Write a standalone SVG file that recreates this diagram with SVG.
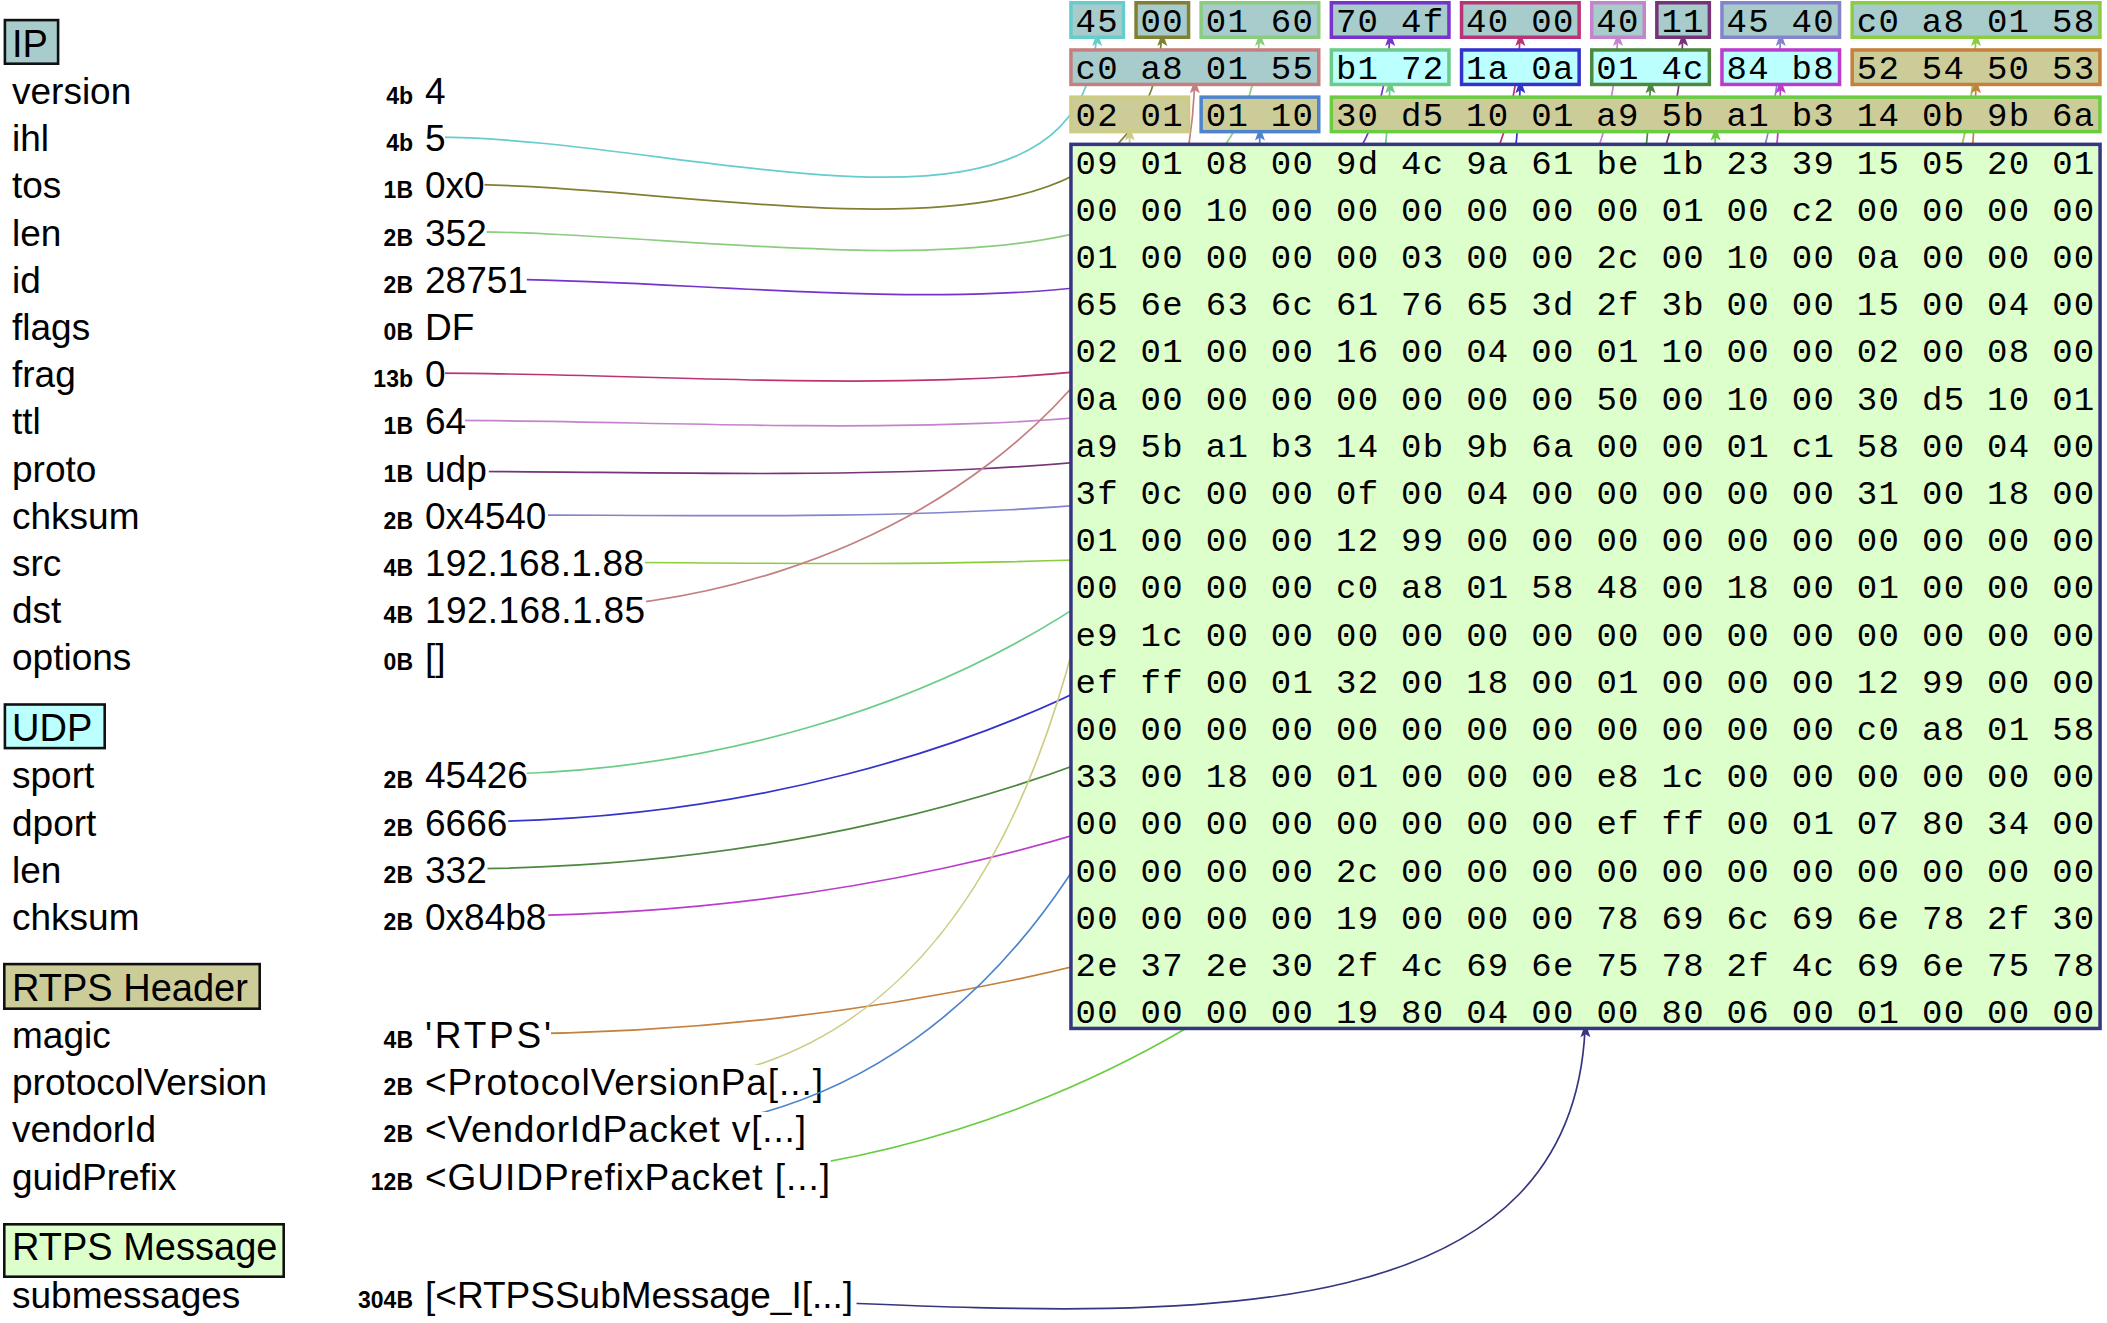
<svg xmlns="http://www.w3.org/2000/svg" xmlns:xlink="http://www.w3.org/1999/xlink" width="2107" height="1323" viewBox="0 0 2107 1323">
<style>
text{font-family:"Liberation Sans",Arial,sans-serif;fill:#000}
.l{font-size:37px}
.t{font-size:38px}
.s{font-size:23px;font-weight:bold;text-anchor:end}
.h{font-family:"Liberation Mono","Courier New",monospace;font-size:34px;letter-spacing:1.3px}
.cn{fill:none;stroke-width:1.7}
.fr{stroke-width:3.5}
.tb{stroke:#111;stroke-width:2.6}
.ip{fill:#a8cccc}.udp{fill:#bbffff}.rh{fill:#cccc99}.rm{fill:#ddffcc}
</style>
<defs>
<path id="ah" d="M0 0L-5 14L0 11L5 14Z"/>
<clipPath id="k1"><path clip-rule="evenodd" d="M0 0H2107V1323H0ZM425 123.2H445V151.2H425Z"/></clipPath>
<clipPath id="k2"><path clip-rule="evenodd" d="M0 0H2107V1323H0ZM425 170.4H484.4V198.4H425Z"/></clipPath>
<clipPath id="k3"><path clip-rule="evenodd" d="M0 0H2107V1323H0ZM425 217.6H486.6V245.6H425Z"/></clipPath>
<clipPath id="k4"><path clip-rule="evenodd" d="M0 0H2107V1323H0ZM425 264.8H526.8V292.8H425Z"/></clipPath>
<clipPath id="k5"><path clip-rule="evenodd" d="M0 0H2107V1323H0ZM425 359.2H445V387.2H425Z"/></clipPath>
<clipPath id="k6"><path clip-rule="evenodd" d="M0 0H2107V1323H0ZM425 406.4H465V434.4H425Z"/></clipPath>
<clipPath id="k7"><path clip-rule="evenodd" d="M0 0H2107V1323H0ZM425 453.6H488.8V489.4H425Z"/></clipPath>
<clipPath id="k8"><path clip-rule="evenodd" d="M0 0H2107V1323H0ZM425 500.8H548V528.8H425Z"/></clipPath>
<clipPath id="k9"><path clip-rule="evenodd" d="M0 0H2107V1323H0ZM425 548H645V576H425Z"/></clipPath>
<clipPath id="k10"><path clip-rule="evenodd" d="M0 0H2107V1323H0ZM425 595.2H646V623.2H425Z"/></clipPath>
<clipPath id="k11"><path clip-rule="evenodd" d="M0 0H2107V1323H0ZM425 760.4H526.8V788.4H425Z"/></clipPath>
<clipPath id="k12"><path clip-rule="evenodd" d="M0 0H2107V1323H0ZM425 807.6H508V835.6H425Z"/></clipPath>
<clipPath id="k13"><path clip-rule="evenodd" d="M0 0H2107V1323H0ZM425 854.8H487.5V882.8H425Z"/></clipPath>
<clipPath id="k14"><path clip-rule="evenodd" d="M0 0H2107V1323H0ZM425 902H548.2V930H425Z"/></clipPath>
<clipPath id="k15"><path clip-rule="evenodd" d="M0 0H2107V1323H0ZM425 1020H551V1048H425Z"/></clipPath>
<clipPath id="k16"><path clip-rule="evenodd" d="M0 0H2107V1323H0ZM425 1064.9H823.8V1105.3H425Z"/></clipPath>
<clipPath id="k17"><path clip-rule="evenodd" d="M0 0H2107V1323H0ZM425 1112.1H806.5V1152.5H425Z"/></clipPath>
<clipPath id="k18"><path clip-rule="evenodd" d="M0 0H2107V1323H0ZM425 1159.3H830.7V1199.7H425Z"/></clipPath>
<clipPath id="k19"><path clip-rule="evenodd" d="M0 0H2107V1323H0ZM425 1277.3H856.5V1317.7H425Z"/></clipPath>
</defs>
<rect width="2107" height="1323" fill="#fff"/>

<g id="layer-ip">
<rect class="tb ip" x="4.9" y="20.1" width="53.2" height="43.6"/>
<text class="t" x="12" y="56.8">IP</text>
</g>
<g id="f-version"><text class="l" x="12" y="104">version</text><text class="s" x="413" y="104">4b</text><text class="l" x="425" y="104">4</text></g>
<g id="f-ihl"><text class="l" x="12" y="151.2">ihl</text><text class="s" x="413" y="151.2">4b</text><text class="l" x="425" y="151.2">5</text></g>
<g id="f-tos"><text class="l" x="12" y="198.4">tos</text><text class="s" x="413" y="198.4">1B</text><text class="l" x="425" y="198.4">0x0</text></g>
<g id="f-len"><text class="l" x="12" y="245.6">len</text><text class="s" x="413" y="245.6">2B</text><text class="l" x="425" y="245.6">352</text></g>
<g id="f-id"><text class="l" x="12" y="292.8">id</text><text class="s" x="413" y="292.8">2B</text><text class="l" x="425" y="292.8">28751</text></g>
<g id="f-flags"><text class="l" x="12" y="340">flags</text><text class="s" x="413" y="340">0B</text><text class="l" x="425" y="340">DF</text></g>
<g id="f-frag"><text class="l" x="12" y="387.2">frag</text><text class="s" x="413" y="387.2">13b</text><text class="l" x="425" y="387.2">0</text></g>
<g id="f-ttl"><text class="l" x="12" y="434.4">ttl</text><text class="s" x="413" y="434.4">1B</text><text class="l" x="425" y="434.4">64</text></g>
<g id="f-proto"><text class="l" x="12" y="481.6">proto</text><text class="s" x="413" y="481.6">1B</text><text class="l" x="425" y="481.6">udp</text></g>
<g id="f-chksum"><text class="l" x="12" y="528.8">chksum</text><text class="s" x="413" y="528.8">2B</text><text class="l" x="425" y="528.8">0x4540</text></g>
<g id="f-src"><text class="l" x="12" y="576">src</text><text class="s" x="413" y="576">4B</text><text class="l" x="425" y="576" textLength="219" lengthAdjust="spacing">192.168.1.88</text></g>
<g id="f-dst"><text class="l" x="12" y="623.2">dst</text><text class="s" x="413" y="623.2">4B</text><text class="l" x="425" y="623.2" textLength="220" lengthAdjust="spacing">192.168.1.85</text></g>
<g id="f-options"><text class="l" x="12" y="670.4">options</text><text class="s" x="413" y="670.4">0B</text><text class="l" x="425" y="670.4">[]</text></g>

<g id="layer-udp">
<rect class="tb udp" x="4.9" y="704.5" width="99.8" height="43.6"/>
<text class="t" x="12" y="741.2">UDP</text>
</g>
<g id="f-sport"><text class="l" x="12" y="788.4">sport</text><text class="s" x="413" y="788.4">2B</text><text class="l" x="425" y="788.4">45426</text></g>
<g id="f-dport"><text class="l" x="12" y="835.6">dport</text><text class="s" x="413" y="835.6">2B</text><text class="l" x="425" y="835.6">6666</text></g>
<g id="f-ulen"><text class="l" x="12" y="882.8">len</text><text class="s" x="413" y="882.8">2B</text><text class="l" x="425" y="882.8">332</text></g>
<g id="f-uchksum"><text class="l" x="12" y="930">chksum</text><text class="s" x="413" y="930">2B</text><text class="l" x="425" y="930">0x84b8</text></g>

<g id="layer-rtps-header">
<rect class="tb rh" x="4.3" y="964.1" width="255.4" height="44.6"/>
<text class="t" x="12" y="1000.8">RTPS Header</text>
</g>
<g id="f-magic"><text class="l" x="12" y="1048">magic</text><text class="s" x="413" y="1048">4B</text><text class="l" x="425" y="1048" textLength="126" lengthAdjust="spacing">'RTPS'</text></g>
<g id="f-protocolVersion"><text class="l" x="12" y="1095.2">protocolVersion</text><text class="s" x="413" y="1095.2">2B</text><text class="l" x="425" y="1095.2" textLength="398" lengthAdjust="spacing">&lt;ProtocolVersionPa[...]</text></g>
<g id="f-vendorId"><text class="l" x="12" y="1142.4">vendorId</text><text class="s" x="413" y="1142.4">2B</text><text class="l" x="425" y="1142.4" textLength="381" lengthAdjust="spacing">&lt;VendorIdPacket v[...]</text></g>
<g id="f-guidPrefix"><text class="l" x="12" y="1189.6">guidPrefix</text><text class="s" x="413" y="1189.6">12B</text><text class="l" x="425" y="1189.6" textLength="405" lengthAdjust="spacing">&lt;GUIDPrefixPacket [...]</text></g>

<g id="layer-rtps-message">
<rect class="tb rm" x="4.3" y="1224.3" width="279.4" height="52.4"/>
<text class="t" x="12" y="1260.4">RTPS Message</text>
</g>
<g id="f-submessages"><text class="l" x="12" y="1307.6">submessages</text><text class="s" x="413" y="1307.6">304B</text><text class="l" x="425" y="1307.6">[&lt;RTPSSubMessage_I[...]</text></g>

<g id="connectors">
<path class="cn" stroke="#66cccc" clip-path="url(#k1)" d="M435 137.2C697.3 137.2 1097.2 282.3 1097.2 20"/>
<use xlink:href="#ah" x="1097.2" y="32" fill="#66cccc"/>
<path class="cn" stroke="#808033" clip-path="url(#k2)" d="M454.7 184.4C738 184.4 1162.3 303.3 1162.3 20"/>
<use xlink:href="#ah" x="1162.3" y="32" fill="#808033"/>
<path class="cn" stroke="#8ccc80" clip-path="url(#k3)" d="M455.8 231.6C780.1 231.6 1259.95 344.3 1259.95 20"/>
<use xlink:href="#ah" x="1259.95" y="32" fill="#8ccc80"/>
<path class="cn" stroke="#7733cc" clip-path="url(#k4)" d="M475.9 278.8C846.5 278.8 1390.15 390.6 1390.15 20"/>
<use xlink:href="#ah" x="1390.15" y="32" fill="#7733cc"/>
<path class="cn" stroke="#bb3377" clip-path="url(#k5)" d="M435 373.2C880.1 373.2 1520.35 465.1 1520.35 20"/>
<use xlink:href="#ah" x="1520.35" y="32" fill="#bb3377"/>
<path class="cn" stroke="#c484cc" clip-path="url(#k6)" d="M445 420.4C928.4 420.4 1618 503.4 1618 20"/>
<use xlink:href="#ah" x="1618" y="32" fill="#c484cc"/>
<path class="cn" stroke="#773377" clip-path="url(#k7)" d="M456.9 471.5C966.5 471.5 1683.1 529.6 1683.1 20"/>
<use xlink:href="#ah" x="1683.1" y="32" fill="#773377"/>
<path class="cn" stroke="#8484cc" clip-path="url(#k8)" d="M486.5 514.8C1026.9 514.8 1780.75 560.4 1780.75 20"/>
<use xlink:href="#ah" x="1780.75" y="32" fill="#8484cc"/>
<path class="cn" stroke="#8ccc40" clip-path="url(#k9)" d="M535 562C1135.4 562 1976.05 620.4 1976.05 20"/>
<use xlink:href="#ah" x="1976.05" y="32" fill="#8ccc40"/>
<path class="cn" stroke="#c48080" clip-path="url(#k10)" d="M535.5 609.2C868.4 609.2 1194.85 400.1 1194.85 67.2"/>
<use xlink:href="#ah" x="1194.85" y="79.2" fill="#c48080"/>
<path class="cn" stroke="#6acc88" clip-path="url(#k11)" d="M475.9 774.4C926.7 774.4 1390.15 518 1390.15 67.2"/>
<use xlink:href="#ah" x="1390.15" y="79.2" fill="#6acc88"/>
<path class="cn" stroke="#3333cc" clip-path="url(#k12)" d="M466.5 821.6C971.9 821.6 1520.35 572.6 1520.35 67.2"/>
<use xlink:href="#ah" x="1520.35" y="79.2" fill="#3333cc"/>
<path class="cn" stroke="#4d8840" clip-path="url(#k13)" d="M456.2 868.8C1017.2 868.8 1650.55 628.2 1650.55 67.2"/>
<use xlink:href="#ah" x="1650.55" y="79.2" fill="#4d8840"/>
<path class="cn" stroke="#bb3ccc" clip-path="url(#k14)" d="M486.6 916C1090.2 916 1780.75 670.8 1780.75 67.2"/>
<use xlink:href="#ah" x="1780.75" y="79.2" fill="#bb3ccc"/>
<path class="cn" stroke="#c4803c" clip-path="url(#k15)" d="M488 1034C1180.1 1034 1976.05 759.3 1976.05 67.2"/>
<use xlink:href="#ah" x="1976.05" y="79.2" fill="#c4803c"/>
<path class="cn" stroke="#cccc84" clip-path="url(#k16)" d="M624.4 1085.1C1051.2 1085.1 1129.75 541.2 1129.75 114.4"/>
<use xlink:href="#ah" x="1129.75" y="126.4" fill="#cccc84"/>
<path class="cn" stroke="#4d84cc" clip-path="url(#k17)" d="M615.7 1132.3C1085.5 1132.3 1259.95 584.2 1259.95 114.4"/>
<use xlink:href="#ah" x="1259.95" y="126.4" fill="#4d84cc"/>
<path class="cn" stroke="#6acc40" clip-path="url(#k18)" d="M627.9 1179.5C1221.6 1179.5 1715.65 708.1 1715.65 114.4"/>
<use xlink:href="#ah" x="1715.65" y="126.4" fill="#6acc40"/>
<path class="cn" stroke="#363680" clip-path="url(#k19)" d="M640.7 1297.5C1025.7 1297.5 1585.45 1396.2 1585.45 1011.2"/>
<use xlink:href="#ah" x="1585.45" y="1023.2" fill="#363680"/>
</g>

<g id="d-ihl"><rect class="fr ip" stroke="#66cccc" x="1070.95" y="2.75" width="52.5" height="34.5"/><text class="h" x="1075.5" y="32">45</text></g>
<g id="d-tos"><rect class="fr ip" stroke="#808033" x="1136.05" y="2.75" width="52.5" height="34.5"/><text class="h" x="1140.6" y="32">00</text></g>
<g id="d-len"><rect class="fr ip" stroke="#8ccc80" x="1201.15" y="2.75" width="117.6" height="34.5"/><text class="h" x="1205.7" y="32">01 60</text></g>
<g id="d-id"><rect class="fr ip" stroke="#7733cc" x="1331.35" y="2.75" width="117.6" height="34.5"/><text class="h" x="1335.9" y="32">70 4f</text></g>
<g id="d-frag"><rect class="fr ip" stroke="#bb3377" x="1461.55" y="2.75" width="117.6" height="34.5"/><text class="h" x="1466.1" y="32">40 00</text></g>
<g id="d-ttl"><rect class="fr ip" stroke="#c484cc" x="1591.75" y="2.75" width="52.5" height="34.5"/><text class="h" x="1596.3" y="32">40</text></g>
<g id="d-proto"><rect class="fr ip" stroke="#773377" x="1656.85" y="2.75" width="52.5" height="34.5"/><text class="h" x="1661.4" y="32">11</text></g>
<g id="d-chksum"><rect class="fr ip" stroke="#8484cc" x="1721.95" y="2.75" width="117.6" height="34.5"/><text class="h" x="1726.5" y="32">45 40</text></g>
<g id="d-src"><rect class="fr ip" stroke="#8ccc40" x="1852.15" y="2.75" width="247.8" height="34.5"/><text class="h" x="1856.7" y="32">c0 a8 01 58</text></g>

<g id="d-dst"><rect class="fr ip" stroke="#c48080" x="1070.95" y="49.95" width="247.8" height="34.5"/><text class="h" x="1075.5" y="79.2">c0 a8 01 55</text></g>
<g id="d-sport"><rect class="fr udp" stroke="#6acc88" x="1331.35" y="49.95" width="117.6" height="34.5"/><text class="h" x="1335.9" y="79.2">b1 72</text></g>
<g id="d-dport"><rect class="fr udp" stroke="#3333cc" x="1461.55" y="49.95" width="117.6" height="34.5"/><text class="h" x="1466.1" y="79.2">1a 0a</text></g>
<g id="d-ulen"><rect class="fr udp" stroke="#4d8840" x="1591.75" y="49.95" width="117.6" height="34.5"/><text class="h" x="1596.3" y="79.2">01 4c</text></g>
<g id="d-uchksum"><rect class="fr udp" stroke="#bb3ccc" x="1721.95" y="49.95" width="117.6" height="34.5"/><text class="h" x="1726.5" y="79.2">84 b8</text></g>
<g id="d-magic"><rect class="fr rh" stroke="#c4803c" x="1852.15" y="49.95" width="247.8" height="34.5"/><text class="h" x="1856.7" y="79.2">52 54 50 53</text></g>

<g id="d-protocolVersion"><rect class="fr rh" stroke="#cccc84" x="1070.95" y="97.15" width="117.6" height="34.5"/><text class="h" x="1075.5" y="126.4">02 01</text></g>
<g id="d-vendorId"><rect class="fr rh" stroke="#4d84cc" x="1201.15" y="97.15" width="117.6" height="34.5"/><text class="h" x="1205.7" y="126.4">01 10</text></g>
<g id="d-guidPrefix"><rect class="fr rh" stroke="#6acc40" x="1331.35" y="97.15" width="768.6" height="34.5"/><text class="h" x="1335.9" y="126.4">30 d5 10 01 a9 5b a1 b3 14 0b 9b 6a</text></g>

<g id="d-submessages">
<rect class="fr rm" stroke="#363680" x="1070.95" y="144.35" width="1029.1" height="884.1"/>
<text class="h" x="1075.5" y="173.6">09 01 08 00 9d 4c 9a 61 be 1b 23 39 15 05 20 01</text>
<text class="h" x="1075.5" y="220.8">00 00 10 00 00 00 00 00 00 01 00 c2 00 00 00 00</text>
<text class="h" x="1075.5" y="268">01 00 00 00 00 03 00 00 2c 00 10 00 0a 00 00 00</text>
<text class="h" x="1075.5" y="315.2">65 6e 63 6c 61 76 65 3d 2f 3b 00 00 15 00 04 00</text>
<text class="h" x="1075.5" y="362.4">02 01 00 00 16 00 04 00 01 10 00 00 02 00 08 00</text>
<text class="h" x="1075.5" y="409.6">0a 00 00 00 00 00 00 00 50 00 10 00 30 d5 10 01</text>
<text class="h" x="1075.5" y="456.8">a9 5b a1 b3 14 0b 9b 6a 00 00 01 c1 58 00 04 00</text>
<text class="h" x="1075.5" y="504">3f 0c 00 00 0f 00 04 00 00 00 00 00 31 00 18 00</text>
<text class="h" x="1075.5" y="551.2">01 00 00 00 12 99 00 00 00 00 00 00 00 00 00 00</text>
<text class="h" x="1075.5" y="598.4">00 00 00 00 c0 a8 01 58 48 00 18 00 01 00 00 00</text>
<text class="h" x="1075.5" y="645.6">e9 1c 00 00 00 00 00 00 00 00 00 00 00 00 00 00</text>
<text class="h" x="1075.5" y="692.8">ef ff 00 01 32 00 18 00 01 00 00 00 12 99 00 00</text>
<text class="h" x="1075.5" y="740">00 00 00 00 00 00 00 00 00 00 00 00 c0 a8 01 58</text>
<text class="h" x="1075.5" y="787.2">33 00 18 00 01 00 00 00 e8 1c 00 00 00 00 00 00</text>
<text class="h" x="1075.5" y="834.4">00 00 00 00 00 00 00 00 ef ff 00 01 07 80 34 00</text>
<text class="h" x="1075.5" y="881.6">00 00 00 00 2c 00 00 00 00 00 00 00 00 00 00 00</text>
<text class="h" x="1075.5" y="928.8">00 00 00 00 19 00 00 00 78 69 6c 69 6e 78 2f 30</text>
<text class="h" x="1075.5" y="976">2e 37 2e 30 2f 4c 69 6e 75 78 2f 4c 69 6e 75 78</text>
<text class="h" x="1075.5" y="1023.2">00 00 00 00 19 80 04 00 00 80 06 00 01 00 00 00</text>
</g>
</svg>
